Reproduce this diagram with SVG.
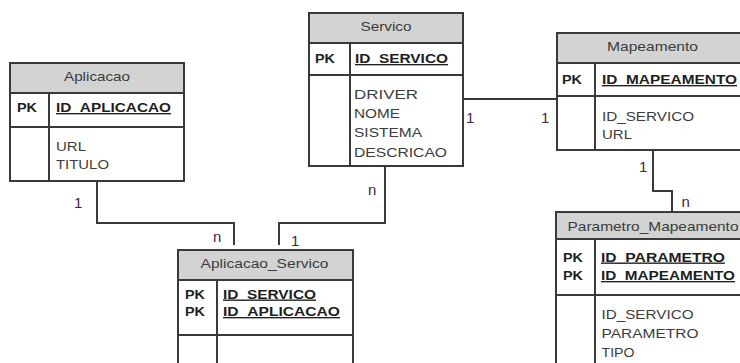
<svg xmlns="http://www.w3.org/2000/svg" width="740" height="363" viewBox="0 0 740 363">
<style>
.box{fill:#fff;stroke:#3a3a3a;stroke-width:2}
.hdr{fill:#d3d3d3;stroke:#3a3a3a;stroke-width:2}
.ln{stroke:#3a3a3a;stroke-width:2}
.t{font-family:"Liberation Sans",Arial,sans-serif;font-size:13.5px;fill:#3c3c3c}
.b{font-weight:bold;fill:#1e1e1e}
.u{text-decoration:underline}
.lbl{font-family:"Liberation Sans",Arial,sans-serif;font-size:15px;fill:#4a1c40}
.conn{fill:none;stroke:#3a3a3a;stroke-width:2}
</style>
<rect width="740" height="363" fill="#fff"/>
<g id="connectors">
<path class="conn" d="M97,181 V223 H234 V245"/>
<path class="conn" d="M385,166 V223 H279 V245"/>
<path class="conn" d="M464,99 H557"/>
<path class="conn" d="M653,150 V191 H672 V212"/>
<text class="lbl" x="74" y="208">1</text>
<text class="lbl" x="213" y="241.5">n</text>
<text class="lbl" x="291" y="246">1</text>
<text class="lbl" x="368" y="195">n</text>
<text class="lbl" x="466" y="122.5">1</text>
<text class="lbl" x="541" y="122.5">1</text>
<text class="lbl" x="639" y="172">1</text>
<text class="lbl" x="681.5" y="206.5">n</text>
</g>
<g id="Aplicacao">
<rect class="box" x="10" y="63" width="174" height="118"/>
<rect class="hdr" x="10" y="63" width="174" height="30"/>
<line class="ln" x1="10" y1="127" x2="184" y2="127"/>
<line class="ln" x1="49" y1="93" x2="49" y2="181"/>
<text class="t" x="97" y="81" text-anchor="middle" textLength="66" lengthAdjust="spacingAndGlyphs">Aplicacao</text>
<text class="t b" x="17" y="112" textLength="20" lengthAdjust="spacingAndGlyphs">PK</text>
<text class="t b u" x="56" y="112" textLength="115" lengthAdjust="spacingAndGlyphs">ID_APLICACAO</text>
<text class="t" x="56" y="151" textLength="30" lengthAdjust="spacingAndGlyphs">URL</text>
<text class="t" x="56" y="169" textLength="53" lengthAdjust="spacingAndGlyphs">TITULO</text>
</g>
<g id="Servico">
<rect class="box" x="309" y="13" width="154" height="153"/>
<rect class="hdr" x="309" y="13" width="154" height="30"/>
<line class="ln" x1="309" y1="75" x2="463" y2="75"/>
<line class="ln" x1="350" y1="43" x2="350" y2="166"/>
<text class="t" x="386" y="31" text-anchor="middle" textLength="51" lengthAdjust="spacingAndGlyphs">Servico</text>
<text class="t b" x="315" y="63" textLength="20" lengthAdjust="spacingAndGlyphs">PK</text>
<text class="t b u" x="355" y="63" textLength="93" lengthAdjust="spacingAndGlyphs">ID_SERVICO</text>
<text class="t" x="354" y="99" textLength="64" lengthAdjust="spacingAndGlyphs">DRIVER</text>
<text class="t" x="354" y="118" textLength="46" lengthAdjust="spacingAndGlyphs">NOME</text>
<text class="t" x="354" y="137" textLength="68" lengthAdjust="spacingAndGlyphs">SISTEMA</text>
<text class="t" x="354" y="156.5" textLength="93" lengthAdjust="spacingAndGlyphs">DESCRICAO</text>
</g>
<g id="Mapeamento">
<rect class="box" x="557" y="33" width="200" height="117"/>
<rect class="hdr" x="557" y="33" width="200" height="30"/>
<line class="ln" x1="557" y1="96" x2="757" y2="96"/>
<line class="ln" x1="595" y1="63" x2="595" y2="150"/>
<text class="t" x="652.5" y="51" text-anchor="middle" textLength="91" lengthAdjust="spacingAndGlyphs">Mapeamento</text>
<text class="t b" x="562" y="84" textLength="20" lengthAdjust="spacingAndGlyphs">PK</text>
<text class="t b u" x="602" y="84" textLength="135" lengthAdjust="spacingAndGlyphs">ID_MAPEAMENTO</text>
<text class="t" x="602" y="120.5" textLength="92" lengthAdjust="spacingAndGlyphs">ID_SERVICO</text>
<text class="t" x="602" y="139" textLength="30" lengthAdjust="spacingAndGlyphs">URL</text>
</g>
<g id="Parametro_Mapeamento">
<rect class="box" x="556" y="212" width="200" height="170"/>
<rect class="hdr" x="556" y="212" width="200" height="27"/>
<line class="ln" x1="556" y1="295" x2="756" y2="295"/>
<line class="ln" x1="595" y1="239" x2="595" y2="382"/>
<text class="t" x="567.5" y="231" textLength="171" lengthAdjust="spacingAndGlyphs">Parametro_Mapeamento</text>
<text class="t b" x="563" y="261.5" textLength="20" lengthAdjust="spacingAndGlyphs">PK</text>
<text class="t b" x="563" y="280" textLength="20" lengthAdjust="spacingAndGlyphs">PK</text>
<text class="t b u" x="601" y="261.5" textLength="124" lengthAdjust="spacingAndGlyphs">ID_PARAMETRO</text>
<text class="t b u" x="601" y="280" textLength="134" lengthAdjust="spacingAndGlyphs">ID_MAPEAMENTO</text>
<text class="t" x="601.5" y="319" textLength="92" lengthAdjust="spacingAndGlyphs">ID_SERVICO</text>
<text class="t" x="601.5" y="338" textLength="97" lengthAdjust="spacingAndGlyphs">PARAMETRO</text>
<text class="t" x="601.5" y="357" textLength="33" lengthAdjust="spacingAndGlyphs">TIPO</text>
</g>
<g id="Aplicacao_Servico">
<rect class="box" x="178" y="250" width="175" height="130"/>
<rect class="hdr" x="178" y="250" width="175" height="30"/>
<line class="ln" x1="178" y1="335" x2="353" y2="335"/>
<line class="ln" x1="217" y1="280" x2="217" y2="380"/>
<text class="t" x="264.5" y="268" text-anchor="middle" textLength="128" lengthAdjust="spacingAndGlyphs">Aplicacao_Servico</text>
<text class="t b" x="185" y="298.5" textLength="20" lengthAdjust="spacingAndGlyphs">PK</text>
<text class="t b" x="185" y="316" textLength="20" lengthAdjust="spacingAndGlyphs">PK</text>
<text class="t b u" x="223" y="298.5" textLength="93" lengthAdjust="spacingAndGlyphs">ID_SERVICO</text>
<text class="t b u" x="223" y="316" textLength="117" lengthAdjust="spacingAndGlyphs">ID_APLICACAO</text>
</g>
</svg>
